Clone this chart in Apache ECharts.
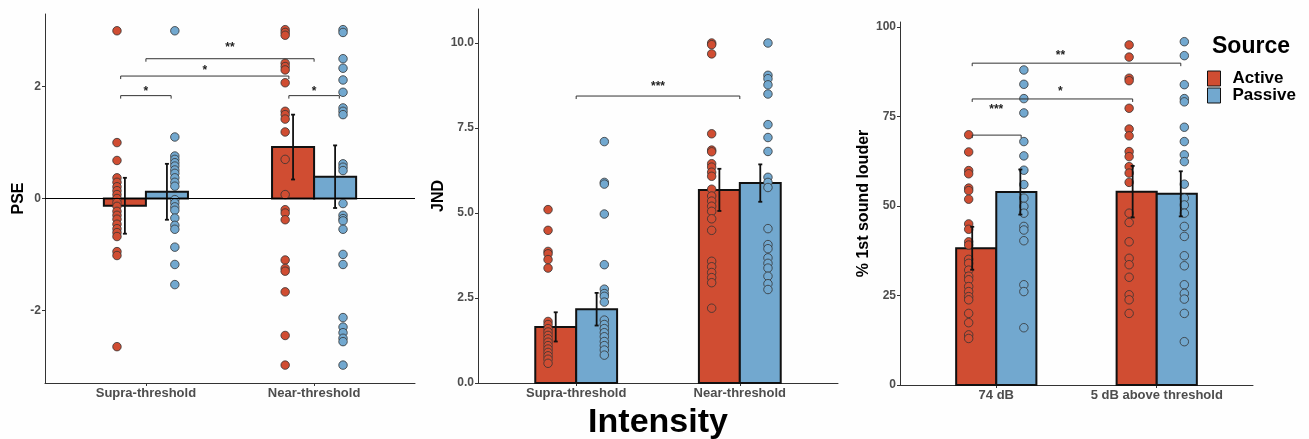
<!DOCTYPE html>
<html><head><meta charset="utf-8">
<script src="https://cdn.jsdelivr.net/npm/echarts@6/dist/echarts.min.js"></script>
<style>html,body{margin:0;padding:0;background:#fff}#c{width:1309px;height:439px}</style>
</head><body><div id="c"></div>
<script>
// ---------- DATA ----------
const pseCategories = ['Supra-threshold', 'Near-threshold'];
const pseActiveMean = [-0.13, 0.92];
const psePassiveMean = [0.12, 0.39];
const pseActiveErr = [0.5, 0.58];
const psePassiveErr = [0.5, 0.56];
const pseActiveDotsSupra = [3.0, 1.0, 0.68, 0.37, 0.29, 0.21, 0.14, 0.07, 0.0, -0.07, -0.14, -0.23, -0.3, -0.37, -0.46, -0.54, -0.61, -0.68, -0.95, -1.02, -2.65];
const psePassiveDotsSupra = [3.0, 1.1, 0.76, 0.7, 0.64, 0.58, 0.51, 0.45, 0.37, 0.29, 0.22, -0.02, -0.08, -0.15, -0.21, -0.35, -0.48, -0.55, -0.87, -1.18, -1.54];
const pseActiveDotsNear = [3.02, 2.97, 2.92, 2.42, 2.36, 2.3, 2.07, 1.56, 1.5, 1.42, 1.19, 0.7, 0.07, -0.2, -0.26, -0.38, -1.1, -1.25, -1.3, -1.67, -2.45, -2.98];
const psePassiveDotsNear = [3.02, 2.97, 2.5, 2.33, 2.12, 1.9, 1.62, 1.56, 1.5, 0.62, 0.56, 0.5, -0.09, -0.3, -0.36, -0.4, -0.55, -1.0, -1.18, -2.13, -2.3, -2.4, -2.5, -2.56, -2.98];
const pseTicks = [-2, 0, 2];
// brackets: [x1, x2, y, labelX, labelY, label]
const pseBrackets = [[0.85, 1.15, 1.84, 1.0, 1.96, '*'], [0.85, 1.85, 2.19, 1.35, 2.34, '*'], [1.0, 2.0, 2.5, 1.5, 2.75, '**'], [1.85, 2.15, 1.84, 2.0, 1.96, '*']];

const jndCategories = ['Supra-threshold', 'Near-threshold'];
const jndActiveMean = [1.65, 5.68];
const jndPassiveMean = [2.17, 5.88];
const jndActiveErr = [0.43, 0.62];
const jndPassiveErr = [0.48, 0.55];
const jndActiveDotsSupra = [5.1, 4.49, 3.87, 3.8, 3.63, 3.38, 1.81, 1.72, 1.6, 1.5, 1.4, 1.3, 1.2, 1.1, 1.0, 0.9, 0.8, 0.7, 0.58];
const jndPassiveDotsSupra = [7.1, 5.9, 5.85, 4.97, 3.48, 2.76, 2.63, 2.55, 2.38, 1.85, 1.72, 1.6, 1.48, 1.36, 1.22, 1.1, 0.97, 0.82];
const jndActiveDotsNear = [10.0, 9.95, 9.68, 7.33, 6.85, 6.8, 6.45, 6.35, 6.2, 6.08, 5.7, 5.5, 5.35, 5.2, 5.05, 4.83, 4.49, 3.58, 3.42, 3.25, 3.1, 2.95, 2.2];
const jndPassiveDotsNear = [10.0, 9.05, 8.95, 8.77, 8.5, 7.6, 7.22, 6.81, 6.05, 5.9, 5.75, 4.54, 4.07, 3.95, 3.68, 3.52, 3.38, 3.14, 2.92, 2.75];
const jndTicks = [0, 2.5, 5, 7.5, 10];
const jndBrackets = [[1.0, 2.0, 8.44, 1.5, 8.79, '***']];

const loudCategories = ['74 dB', '5 dB above threshold'];
const loudActiveMean = [38.2, 54.0];
const loudPassiveMean = [53.9, 53.4];
const loudActiveErr = [6.0, 7.2];
const loudPassiveErr = [6.3, 6.3];
const loudActiveDots74 = [69.9, 65.1, 59.9, 59.0, 55.0, 54.3, 51.9, 45.0, 43.5, 40.0, 39.1, 35.1, 34.0, 32.1, 30.4, 29.4, 27.5, 26.1, 24.7, 23.8, 20.0, 17.4, 14.0, 13.0];
const loudPassiveDots74 = [88, 84, 80, 76, 68, 64, 60, 56, 52.2, 49.9, 48, 44.3, 43.3, 40.3, 28, 26.1, 16];
const loudActiveDots5 = [95, 91.6, 85.7, 85, 77.3, 71.5, 69.6, 65.2, 63.8, 61, 59.2, 56.6, 48, 45.4, 40, 35.4, 33.6, 30.1, 25.2, 23.8, 20];
const loudPassiveDots5 = [95.9, 92, 83.9, 80, 79.1, 72, 68, 64.3, 62.4, 56.1, 52.2, 50.3, 48, 44.3, 41.5, 36.1, 33.3, 28, 25.6, 24, 20, 12.1];
const loudTicks = [0, 25, 50, 75, 100];
const loudBrackets = [[0.85, 1.155, 69.8, 1.0, 77.7, '***'], [0.85, 1.85, 79.9, 1.4, 82.7, '*'], [0.85, 2.15, 89.9, 1.4, 92.7, '**']];

const legendTitle = 'Source';
const groupNames = ['Active', 'Passive'];

// ---------- STYLE / LAYOUT ----------
const FONT = '"Liberation Sans", Arial, Helvetica, sans-serif';
const RED = '#D04D32', BLUE = '#72A8CF';
const BAR_HALF = 0.125, DOT_OFF = 0.172;

const panels = [
  { grid: { left: 45, top: 14, width: 370, height: 369 }, cats: pseCategories, yMin: -3.3, yMax: 3.3, ticks: pseTicks, name: 'PSE', nameGap: 17,
    aMean: pseActiveMean, pMean: psePassiveMean, aErr: pseActiveErr, pErr: psePassiveErr,
    aDots: [pseActiveDotsSupra, pseActiveDotsNear], pDots: [psePassiveDotsSupra, psePassiveDotsNear], brackets: pseBrackets, errOff: 0.125, fmt: v => String(v), zeroLine: true },
  { grid: { left: 478, top: 9, width: 360, height: 374 }, cats: jndCategories, yMin: 0, yMax: 11, ticks: jndTicks, name: 'JND', nameGap: 31,
    aMean: jndActiveMean, pMean: jndPassiveMean, aErr: jndActiveErr, pErr: jndPassiveErr,
    aDots: [jndActiveDotsSupra, jndActiveDotsNear], pDots: [jndPassiveDotsSupra, jndPassiveDotsNear], brackets: jndBrackets, errOff: 0.125, fmt: v => v.toFixed(1), xName: 'Intensity' },
  { grid: { left: 900, top: 22, width: 353, height: 363 }, cats: loudCategories, yMin: 0, yMax: 101.4, ticks: loudTicks, name: '% 1st sound louder', nameGap: 25,
    aMean: loudActiveMean, pMean: loudPassiveMean, aErr: loudActiveErr, pErr: loudPassiveErr,
    aDots: [loudActiveDots74, loudActiveDots5], pDots: [loudPassiveDots74, loudPassiveDots5], brackets: loudBrackets, errOff: 0.15, fmt: v => String(v) }
];

const grids = [], xAxes = [], yAxes = [], series = [];
panels.forEach((P, i) => {
  grids.push(Object.assign({ containLabel: false, outerBoundsMode: 'none' }, P.grid));
  xAxes.push({
    type: 'value', gridIndex: i, min: 0.4, max: 2.6,
    axisLine: { onZero: false, lineStyle: { color: '#333', width: 1 } },
    axisTick: { show: true, length: 3, lineStyle: { color: '#333' }, customValues: [1, 2] },
    axisLabel: { customValues: [1, 2], formatter: v => P.cats[Math.round(v) - 1], color: '#4d4d4d', fontWeight: 'bold', fontSize: 13, fontFamily: FONT, margin: 4 },
    splitLine: { show: false },
    name: P.xName || '', nameLocation: 'middle', nameGap: 23,
    nameTextStyle: { fontSize: 34, fontWeight: 'bold', color: '#000', fontFamily: FONT }
  });
  yAxes.push({
    type: 'value', gridIndex: i, min: P.yMin, max: P.yMax,
    axisLine: { show: true, onZero: false, lineStyle: { color: '#333', width: 1 } },
    axisTick: { show: true, length: 3, lineStyle: { color: '#333' }, customValues: P.ticks },
    axisLabel: { customValues: P.ticks, formatter: P.fmt, color: '#4d4d4d', fontWeight: 'bold', fontSize: 12, fontFamily: FONT, margin: 4 },
    splitLine: { show: false },
    name: P.name, nameLocation: 'middle', nameGap: P.nameGap, nameRotate: 90,
    nameTextStyle: { fontSize: 16, fontWeight: 'bold', color: '#000', fontFamily: FONT }
  });

  // bars
  [[P.aMean, -1, RED, 'Active'], [P.pMean, 1, BLUE, 'Passive']].forEach(([means, sgn, col, nm]) => {
    const s = {
      type: 'custom', name: nm, xAxisIndex: i, yAxisIndex: i, z: 2, itemStyle: { color: col },
      encode: { x: 0, y: 1 },
      data: means.map((m, j) => [j + 1 + sgn * BAR_HALF, m]),
      renderItem: (params, api) => {
        const x = api.value(0), y = api.value(1);
        const a = api.coord([x - BAR_HALF, y]);
        const b = api.coord([x + BAR_HALF, 0]);
        return { type: 'rect', shape: { x: a[0], y: Math.min(a[1], b[1]), width: b[0] - a[0], height: Math.abs(b[1] - a[1]) },
          style: { fill: col, stroke: '#111', lineWidth: 2 } };
      }
    };
    if (P.zeroLine && sgn < 0) {
      s.markLine = { silent: true, symbol: ['none', 'none'], label: { show: false }, animation: false,
        lineStyle: { color: '#000', type: 'solid', width: 1 }, data: [{ yAxis: 0 }] };
    }
    series.push(s);
  });

  // dots
  [[P.aDots, -1, RED, 'Active'], [P.pDots, 1, BLUE, 'Passive']].forEach(([dots, sgn, col, nm]) => {
    const data = [];
    dots.forEach((arr, j) => arr.forEach(v => data.push([j + 1 + sgn * DOT_OFF, v])));
    series.push({ type: 'scatter', name: nm, xAxisIndex: i, yAxisIndex: i, z: 3, symbolSize: 8.5, data,
      itemStyle: { color: col, borderColor: '#333', borderWidth: 0.8, opacity: 1 } });
  });

  // error bars
  const errData = [];
  P.aMean.forEach((m, j) => errData.push([j + 1 - P.errOff, m, P.aErr[j]]));
  P.pMean.forEach((m, j) => errData.push([j + 1 + P.errOff, m, P.pErr[j]]));
  series.push({
    type: 'custom', xAxisIndex: i, yAxisIndex: i, z: 4, data: errData, encode: { x: 0, y: 1 },
    renderItem: (params, api) => {
      const x = api.value(0), m = api.value(1), e = api.value(2);
      const top = api.coord([x, m + e]), bot = api.coord([x, m - e]);
      const st = { stroke: '#111', lineWidth: 1.8 };
      return { type: 'group', children: [
        { type: 'line', shape: { x1: top[0], y1: top[1], x2: bot[0], y2: bot[1] }, style: st },
        { type: 'line', shape: { x1: top[0] - 2, y1: top[1], x2: top[0] + 2, y2: top[1] }, style: st },
        { type: 'line', shape: { x1: bot[0] - 2, y1: bot[1], x2: bot[0] + 2, y2: bot[1] }, style: st }
      ] };
    }
  });

  // significance brackets
  const br = P.brackets;
  series.push({
    type: 'custom', xAxisIndex: i, yAxisIndex: i, z: 5, data: br.map(b => [b[0], b[2]]), encode: { x: 0, y: 1 },
    renderItem: (params, api) => {
      const b = br[params.dataIndex];
      const p1 = api.coord([b[0], b[2]]), p2 = api.coord([b[1], b[2]]);
      const lp = api.coord([b[3], b[4]]);
      return { type: 'group', children: [
        { type: 'polyline', shape: { points: [[p1[0], p1[1] + 3], [p1[0], p1[1]], [p2[0], p2[1]], [p2[0], p2[1] + 3]] },
          style: { stroke: '#333', lineWidth: 1, fill: null } },
        { type: 'text', style: { text: b[5], x: lp[0], y: lp[1] + 3, align: 'center', verticalAlign: 'middle',
          font: 'bold 12px ' + FONT, fill: '#222' } }
      ] };
    }
  });
});

const chart = echarts.init(document.getElementById('c'), null, { renderer: 'canvas' });
chart.setOption({
  animation: false,
  backgroundColor: '#fefefe',
  title: { text: legendTitle, left: 1212, top: 35, padding: 0,
    textStyle: { fontSize: 23, fontWeight: 'bold', color: '#000', fontFamily: FONT } },
  legend: {
    orient: 'vertical', left: 1207, top: 70, padding: 0, itemGap: 0, itemWidth: 13, itemHeight: 15, selectedMode: false,
    textStyle: { fontSize: 17, fontWeight: 'bold', color: '#000', fontFamily: FONT, lineHeight: 15, padding: [0, 0, 0, 7] },
    data: [
      { name: groupNames[0], icon: 'rect', itemStyle: { color: RED, borderColor: '#111', borderWidth: 1 } },
      { name: groupNames[1], icon: 'rect', itemStyle: { color: BLUE, borderColor: '#111', borderWidth: 1 } }
    ]
  },
  grid: grids, xAxis: xAxes, yAxis: yAxes, series
});
</script></body></html>
